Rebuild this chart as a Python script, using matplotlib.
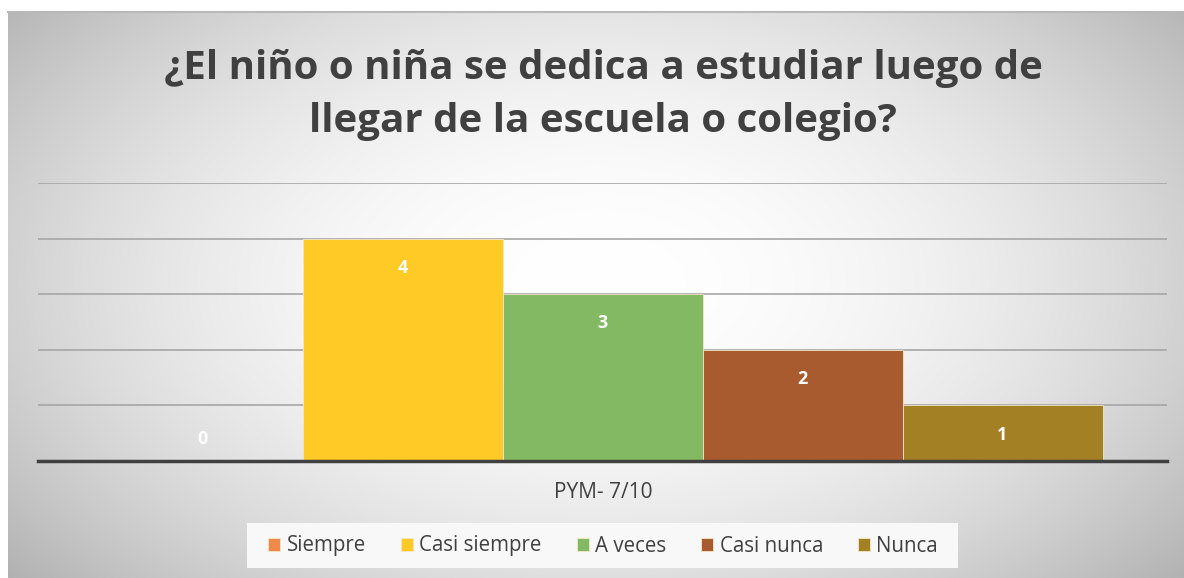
import numpy as np
import matplotlib.pyplot as plt
from matplotlib.patches import Rectangle

categoria = "PYM- 7/10"
series = ["Siempre", "Casi siempre", "A veces", "Casi nunca", "Nunca"]
valores = [0, 4, 3, 2, 1]
colores = ["#F08A4B", "#FFC926", "#84B963", "#A95B30", "#A48024"]
titulo = "¿El niño o niña se dedica a estudiar luego de\nllegar de la escuela o colegio?"

plt.rcParams['font.family'] = ['Open Sans', 'DejaVu Sans']

W, H = 1184, 578
fig = plt.figure(figsize=(W / 100, H / 100), dpi=100)
fig.patch.set_facecolor("white")

# fondo con degradado radial
bg = fig.add_axes([8 / W, 0, 1 - 8 / W, 1 - 12 / H])
bg.set_axis_off()
yy, xx = np.mgrid[0:566, 0:1176]
cx, cy = 590, 270
r = np.sqrt(((xx - cx) / 640.0) ** 2 + ((yy - cy) / 380.0) ** 2)
r = np.clip(r, 0, 1.2)
g = 1.0 - 0.21 * r ** 2
img = np.dstack([g, g, g])
bg.imshow(img, aspect="auto", extent=[0, 1, 0, 1], origin="upper")
bg.set_xlim(0, 1)
bg.set_ylim(0, 1)
bg.plot([0, 1], [1, 1], color="#b8b8b8", lw=1.5, transform=bg.transAxes, clip_on=False)

ax = fig.add_axes([38 / W, 117 / H, (1167 - 38) / W, (461 - 183) / H])
ax.patch.set_alpha(0)

ancho = 200 / 1129
n = len(series)
for i, (s, v, c) in enumerate(zip(series, valores, colores)):
    x = (i - (n - 1) / 2) * ancho
    ax.bar(x, v, width=ancho, color=c, edgecolor="#f3e7c8", linewidth=0.6, label=s, zorder=3)
    off = -21 if v > 0 else 16
    ax.annotate(str(v), (x, v), xytext=(0, off), textcoords="offset points",
                ha="center", va="center", color="white", fontsize=13, fontweight="bold", zorder=4)

ax.set_xlim(-0.5, 0.5)
ax.set_ylim(0, 5)
ax.set_yticks([1, 2, 3, 4, 5])
ax.yaxis.grid(True, color="#a6a6a6", lw=1.2, zorder=1)
ax.tick_params(left=False, bottom=False, labelleft=False, labelbottom=False)
for sp in ["top", "right", "left"]:
    ax.spines[sp].set_visible(False)
ax.spines["bottom"].set_color("#404040")
ax.spines["bottom"].set_linewidth(2.5)
ax.spines["bottom"].set_zorder(5)

fig.text(603 / W, 1 - 492 / H, categoria, ha="center", va="center", fontsize=15, color="#404040")
fig.text(603 / W, 1 - 95 / H, titulo, ha="center", va="center", fontsize=29, fontweight="bold",
         color="#404040", linespacing=1.45)

fig.patches.append(Rectangle((247 / W, 1 - 568 / H), (958 - 247) / W, 45 / H, transform=fig.transFigure,
                             facecolor="#f8f8f8", edgecolor="none", zorder=0))
leg = fig.legend(loc="center", bbox_to_anchor=(603 / W, 1 - 546 / H), ncol=5, frameon=False,
                 fontsize=14.8, handlelength=0.6, handleheight=0.6, handletextpad=0.3, columnspacing=1.7,
                 labelcolor="#404040")

fig.savefig("out.png", dpi=100)
